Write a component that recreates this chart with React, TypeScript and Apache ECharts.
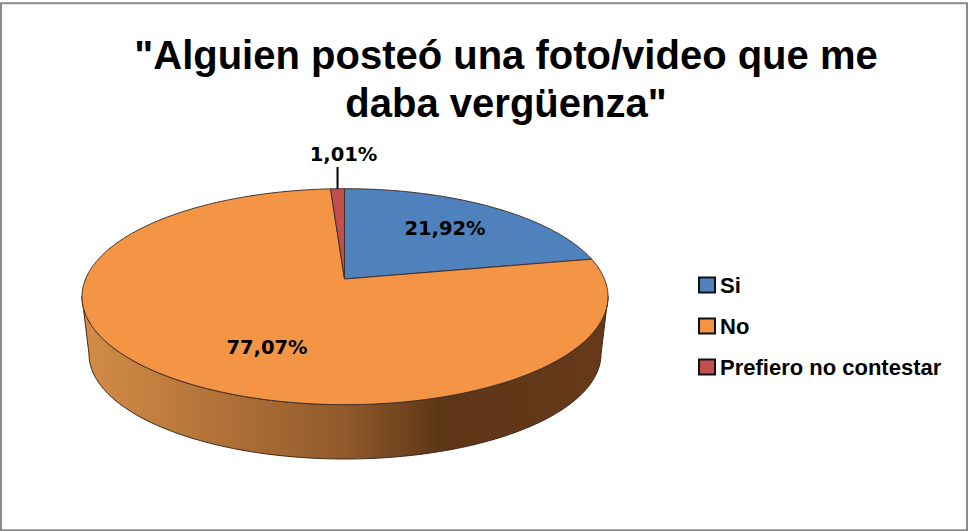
import React, { useEffect, useRef } from "react";
import * as echarts from "echarts";

const CATEGORIES = ["Si", "No", "Prefiero no contestar"];
const SHARES = [21.92, 77.07, 1.01];
const COLORS = ["#4f81bd", "#f39545", "#c0504d"];
const TITLE_LINES = ['"Alguien posteó una foto/video que me', 'daba vergüenza"'];

// Pie geometry on the page
const APEX = { x: 344.5, y: 279 };
const TOP = { x: 345, y: 296.7, rx: 263, ry: 108 };
const BASE = { x: 345, y: 354, rx: 256, ry: 105 };
const LABEL_AT = [
  { x: 445, y: 228 },
  { x: 267, y: 347 },
  { x: 343.5, y: 154 },
];

const WALL = new echarts.graphic.LinearGradient(0, 0, 1, 0, [
  { offset: 0, color: "#d48c47" },
  { offset: 0.5, color: "#915a2b" },
  { offset: 0.68, color: "#5d3617" },
  { offset: 1, color: "#66391a" },
]);

const rad = (p: number) => (p / 100) * Math.PI * 2;
const ox = (APEX.x - TOP.x) / TOP.rx;
const oy = (APEX.y - TOP.y) / TOP.ry;

function rim(a: number) {
  const dx = Math.sin(a);
  const dy = -Math.cos(a);
  const b = ox * dx + oy * dy;
  const s = -b + Math.sqrt(b * b - (ox * ox + oy * oy - 1));
  return [TOP.x + (ox + s * dx) * TOP.rx, TOP.y + (oy + s * dy) * TOP.ry];
}

function wallPoints(a0: number, a1: number) {
  const upper: number[][] = [];
  const lower: number[][] = [];
  for (let deg = 0; deg <= 180; deg += 1) {
    const t = (deg * Math.PI) / 180;
    const ux = Math.cos(t);
    const uy = Math.sin(t);
    let a = Math.atan2(ux - ox, -(uy - oy));
    if (a < 0) a += Math.PI * 2;
    if (a >= a0 && a <= a1) {
      upper.push([TOP.x + TOP.rx * ux, TOP.y + TOP.ry * uy]);
      lower.unshift([BASE.x + BASE.rx * ux, BASE.y + BASE.ry * uy]);
    }
  }
  return upper.concat(lower);
}

function sliceRenderer(index: number) {
  return (_params: any, api: any) => {
    const start = api.value(0);
    const share = api.value(1);
    const a0 = rad(start);
    const a1 = rad(start + share);
    const pts: number[][] = [[APEX.x, APEX.y]];
    const steps = Math.max(2, Math.ceil((a1 - a0) / 0.01));
    for (let i = 0; i <= steps; i++) pts.push(rim(a0 + ((a1 - a0) * i) / steps));
    const children: any[] = [];
    const wall = wallPoints(a0, a1);
    if (wall.length > 3) {
      children.push({
        type: "polygon",
        shape: { points: wall },
        style: { fill: WALL, stroke: "#3d2a18", lineWidth: 1 },
      });
    }
    children.push({
      type: "polygon",
      shape: { points: pts },
      style: { fill: COLORS[index], stroke: "#40302a", lineWidth: 1 },
    });
    const label = LABEL_AT[index];
    if (share < 5) {
      const tip = rim(a0 + (a1 - a0) / 2);
      children.push({
        type: "line",
        shape: { x1: tip[0], y1: tip[1], x2: tip[0], y2: label.y + 13 },
        style: { stroke: "#000", lineWidth: 2 },
      });
    }
    children.push({
      type: "text",
      style: {
        text: share.toFixed(2).replace(".", ",") + "%",
        x: label.x,
        y: label.y,
        align: "center",
        verticalAlign: "middle",
        fontFamily: "DejaVu Sans",
        fontWeight: "bold",
        fontSize: 19.5,
        fill: "#000",
      },
    });
    return { type: "group", children };
  };
}

export default function App() {
  const ref = useRef<HTMLDivElement>(null);
  useEffect(() => {
    document.body.style.margin = "0";
    const chart = echarts.init(ref.current!, undefined, { renderer: "svg" });
    let cumulative = 0;
    const series = CATEGORIES.map((name, i) => {
      const start = cumulative;
      cumulative += SHARES[i];
      return {
        type: "custom",
        name,
        coordinateSystem: "none",
        itemStyle: { color: COLORS[i] },
        data: [[start, SHARES[i]]],
        renderItem: sliceRenderer(i),
        silent: true,
      };
    });
    chart.setOption({
      animation: false,
      backgroundColor: "#fff",
      title: {
        text: TITLE_LINES.join("\n"),
        left: 501,
        top: 26,
        textAlign: "center",
        textStyle: {
          fontFamily: "Liberation Sans",
          fontWeight: "bold",
          fontSize: 40,
          lineHeight: 48,
          color: "#000",
        },
      },
      legend: {
        orient: "vertical",
        left: 698,
        top: 274,
        padding: 0,
        itemWidth: 16,
        itemHeight: 15,
        itemGap: 19,
        icon: "rect",
        itemStyle: { borderColor: "#111", borderWidth: 2 },
        textStyle: {
          fontFamily: "Liberation Sans",
          fontWeight: "bold",
          fontSize: 22,
          color: "#000",
        },
        data: CATEGORIES,
      },
      graphic: [
        {
          type: "rect",
          shape: { x: 1, y: 3.3, width: 966, height: 527 },
          style: { fill: "none", stroke: "#8a8a8a", lineWidth: 2 },
          silent: true,
        },
      ],
      series,
    });
    return () => chart.dispose();
  }, []);
  return <div ref={ref} style={{ width: 968, height: 531 }} />;
}
